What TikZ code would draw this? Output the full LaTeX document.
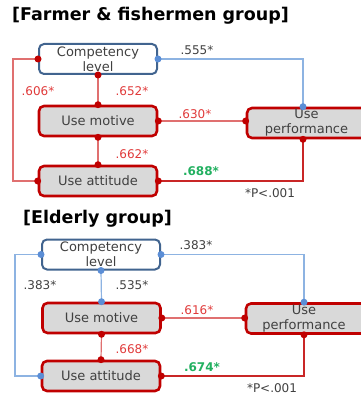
\documentclass[tikz,border=0pt]{standalone}
\usepackage{fontspec}
\setmainfont{DejaVu Sans}
\definecolor{boxblue}{HTML}{41648F}
\definecolor{boxred}{HTML}{C00000}
\definecolor{lineblue}{HTML}{8DB3E2}
\definecolor{dotblue}{HTML}{5B8ED6}
\definecolor{linered}{HTML}{E07070}
\definecolor{labred}{HTML}{E03A3A}
\definecolor{labgreen}{HTML}{22B060}
\definecolor{labgray}{HTML}{404040}
\tikzset{
  compbox/.style={draw=boxblue, line width=2pt, fill=white, rounded corners=5pt,
    minimum width=118pt, minimum height=30pt, inner sep=0pt, align=center,
    text=labgray, font=\fontsize{13}{15}\selectfont},
  usebox/.style={compbox, draw=boxred, line width=2.6pt, fill=black!15},
  bluelink/.style={draw=lineblue, line width=1.2pt},
  redlink/.style={draw=linered, line width=1.2pt},
  lab/.style={font=\fontsize{12}{12}\selectfont, text=labgray, inner sep=0pt},
  title/.style={font=\bfseries\fontsize{17.5}{18}\selectfont, anchor=west, inner sep=0pt}
}
\begin{document}
\begin{tikzpicture}[x=1pt,y=-1pt]
\useasboundingbox (0,0) rectangle (360,398);

% farmer & fishermen group
\path (12,16) node[title] (title1) {[Farmer \& fishermen group]}
      (98,59) node[compbox] (comp1) {Competency\\level}
      (98,121) node[usebox] (mot1) {Use motive}
      (98,181) node[usebox] (att1) {Use attitude}
      (312,123) node[usebox, minimum width=130pt] (perf1) {\hspace*{-11pt}Use\\\hspace*{-11pt}performance}
      ;

\draw[redlink] (comp1.west) -- ++(-25,0) |- (att1.west);
\draw[bluelink] (comp1.east) -| ([xshift=-9pt]perf1.north);
\draw[redlink] (comp1.south) -- (mot1.north);
\draw[redlink] (mot1.east) -- (mot1.east -| perf1.west);
\draw[redlink, draw=boxred!85] (att1.east) -| ([xshift=-9pt]perf1.south);
\draw[redlink] (mot1.south) -- (att1.north);

\foreach \p in {comp1.west, att1.west, comp1.south, mot1.north, mot1.east,
                mot1.south, att1.north, att1.east}
  \fill[boxred] (\p) circle (3.5pt);
\fill[boxred] (mot1.east -| perf1.west) circle (3.5pt);
\fill[boxred] ([xshift=-9pt]perf1.south) circle (3.5pt);
\fill[dotblue] (comp1.east) circle (3.5pt);
\fill[dotblue] ([xshift=-9pt]perf1.north) circle (3.5pt);

\path (197,50) node[lab] (r11) {.555*}
      (38,91) node[lab, text=labred] (r12) {.606*}
      (132,91) node[lab, text=labred] (r13) {.652*}
      (195,114) node[lab, text=labred] (r14) {.630*}
      (132,154) node[lab, text=labred] (r15) {.662*}
      (201,171) node[lab, text=labgreen, font=\bfseries\fontsize{12}{12}\selectfont] (r16) {.688*}
      (270,193) node[lab] (p1) {*P<.001}
      ;

% elderly group
\path (23,219) node[title] (title2) {[Elderly group]}
      (101,254.5) node[compbox] (comp2) {Competency\\level}
      (101.5,318) node[usebox] (mot2) {Use motive}
      (101,376) node[usebox] (att2) {Use attitude}
      (311,318.5) node[usebox, minimum width=130pt] (perf2) {\hspace*{-14pt}Use\\\hspace*{-14pt}performance}
      ;

\draw[bluelink] (comp2.west) -- ++(-26,0) |- (att2.west);
\draw[bluelink] (comp2.east) -| ([xshift=-7pt]perf2.north);
\draw[bluelink] (comp2.south) -- (mot2.north);
\draw[redlink] (mot2.east) -- (mot2.east -| perf2.west);
\draw[redlink] (mot2.south) -- (att2.north);
\draw[redlink, draw=boxred!85] (att2.east) -| ([xshift=-7pt]perf2.south);

\foreach \p in {mot2.east, mot2.south, att2.north, att2.east}
  \fill[boxred] (\p) circle (3.5pt);
\fill[boxred] (mot2.east -| perf2.west) circle (3.5pt);
\fill[boxred] ([xshift=-7pt]perf2.south) circle (3.5pt);
\foreach \p in {comp2.west, att2.west, comp2.south, mot2.north, comp2.east}
  \fill[dotblue] (\p) circle (3.5pt);
\fill[dotblue] ([xshift=-7pt]perf2.north) circle (3.5pt);

\path (196,245) node[lab] (r21) {.383*}
      (40,285) node[lab] (r22) {.383*}
      (132,285) node[lab] (r23) {.535*}
      (197,310) node[lab, text=labred] (r24) {.616*}
      (132,349) node[lab, text=labred] (r25) {.668*}
      (202,367) node[lab, text=labgreen, font=\bfseries\fontsize{12}{12}\selectfont] (r26) {.674*}
      (272,388) node[lab] (p2) {*P<.001}
      ;
\end{tikzpicture}
\end{document}
